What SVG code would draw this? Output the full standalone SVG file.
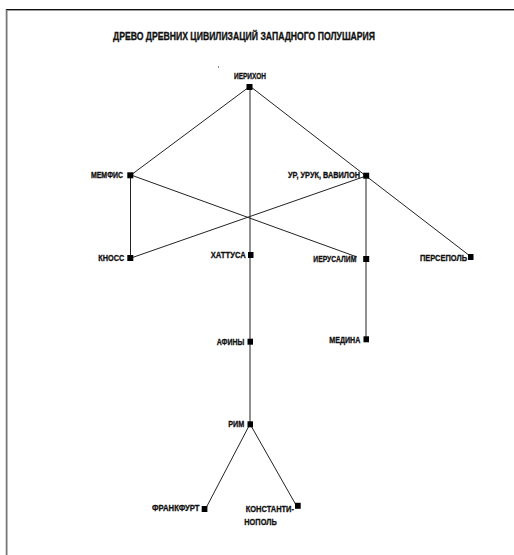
<svg xmlns="http://www.w3.org/2000/svg" width="514" height="555" viewBox="0 0 514 555">
<style>
text{font-family:"Liberation Sans Narrow","Arial Narrow","Liberation Sans",Arial,sans-serif;font-weight:bold;fill:#111;font-size:8.5px;stroke:#111;stroke-width:0.3}
.title{font-size:11.5px;stroke-width:0.35}
.e{stroke:#222;stroke-width:1;fill:none}
.sq{fill:#000}
</style>
<rect width="514" height="555" fill="#fff"/>
<g id="frame">
<line x1="6" y1="9.5" x2="514" y2="9.5" stroke="#111"/>
<line x1="7" y1="10.5" x2="514" y2="10.5" stroke="#999"/>
<line x1="6.3" y1="9" x2="6.3" y2="555" stroke="#444"/>
<line x1="7.3" y1="11" x2="7.3" y2="555" stroke="#aaa"/>
</g>
<text id="title" class="title" x="113" y="40" textLength="262" lengthAdjust="spacingAndGlyphs">ДРЕВО ДРЕВНИХ ЦИВИЛИЗАЦИЙ ЗАПАДНОГО ПОЛУШАРИЯ</text>
<rect x="218" y="66" width="1" height="2" fill="#888"/>
<g id="connectors">
<line class="e" x1="250" y1="87" x2="250" y2="424"/>
<line class="e" x1="249" y1="87" x2="131" y2="175"/>
<line class="e" x1="251" y1="87" x2="366" y2="176"/>
<line class="e" x1="130.5" y1="175" x2="130.5" y2="258"/>
<line class="e" x1="131" y1="175" x2="357" y2="257"/>
<line class="e" x1="366" y1="176" x2="131" y2="258"/>
<line class="e" x1="366" y1="176" x2="366" y2="339"/>
<line class="e" x1="366" y1="176" x2="470" y2="256"/>
<line class="e" x1="250" y1="424" x2="206" y2="508"/>
<line class="e" x1="250" y1="424" x2="296" y2="505"/>
</g>
<g id="n-jericho"><rect class="sq" x="246.5" y="84" width="6" height="6"/><text x="250" y="79" text-anchor="middle" textLength="32" lengthAdjust="spacingAndGlyphs">ИЕРИХОН</text></g>
<g id="n-memphis"><rect class="sq" x="127.3" y="172.3" width="6" height="6"/><text x="91" y="178.3" textLength="32" lengthAdjust="spacingAndGlyphs">МЕМФИС</text></g>
<g id="n-ur"><rect class="sq" x="363.2" y="172.7" width="6" height="6"/><text x="288" y="178.3" textLength="72" lengthAdjust="spacingAndGlyphs">УР, УРУК, ВАВИЛОН</text></g>
<g id="n-knossos"><rect class="sq" x="127.3" y="255" width="6" height="6"/><text x="98.3" y="260.7" textLength="26" lengthAdjust="spacingAndGlyphs">КНОСС</text></g>
<g id="n-hattusa"><rect class="sq" x="248" y="252" width="5.5" height="6"/><text x="210.7" y="258.3" textLength="35" lengthAdjust="spacingAndGlyphs">ХАТТУСА</text></g>
<g id="n-jerusalem"><rect class="sq" x="363.2" y="256" width="6" height="6"/><text x="313.3" y="261.7" textLength="43" lengthAdjust="spacingAndGlyphs">ИЕРУСАЛИМ</text></g>
<g id="n-persepolis"><rect class="sq" x="468" y="254" width="5.5" height="6"/><text x="420" y="261" textLength="47" lengthAdjust="spacingAndGlyphs">ПЕРСЕПОЛЬ</text></g>
<g id="n-athens"><rect class="sq" x="247.5" y="338.7" width="5.5" height="6"/><text x="216.7" y="345" textLength="27.6" lengthAdjust="spacingAndGlyphs">АФИНЫ</text></g>
<g id="n-medina"><rect class="sq" x="363.5" y="336.3" width="5.5" height="6"/><text x="329.3" y="342.7" textLength="31" lengthAdjust="spacingAndGlyphs">МЕДИНА</text></g>
<g id="n-rome"><rect class="sq" x="247.5" y="421.3" width="5.5" height="6"/><text x="228.3" y="427.3" textLength="16" lengthAdjust="spacingAndGlyphs">РИМ</text></g>
<g id="n-frankfurt"><rect class="sq" x="201.7" y="506" width="5.7" height="6"/><text x="152" y="511.3" textLength="47.5" lengthAdjust="spacingAndGlyphs">ФРАНКФУРТ</text></g>
<g id="n-constantinople"><rect class="sq" x="295" y="502.8" width="5.7" height="6"/><text x="245.7" y="511.7" textLength="48.3" lengthAdjust="spacingAndGlyphs">КОНСТАНТИ-</text><text x="244.3" y="525" textLength="32.4" lengthAdjust="spacingAndGlyphs">НОПОЛЬ</text></g>
</svg>
